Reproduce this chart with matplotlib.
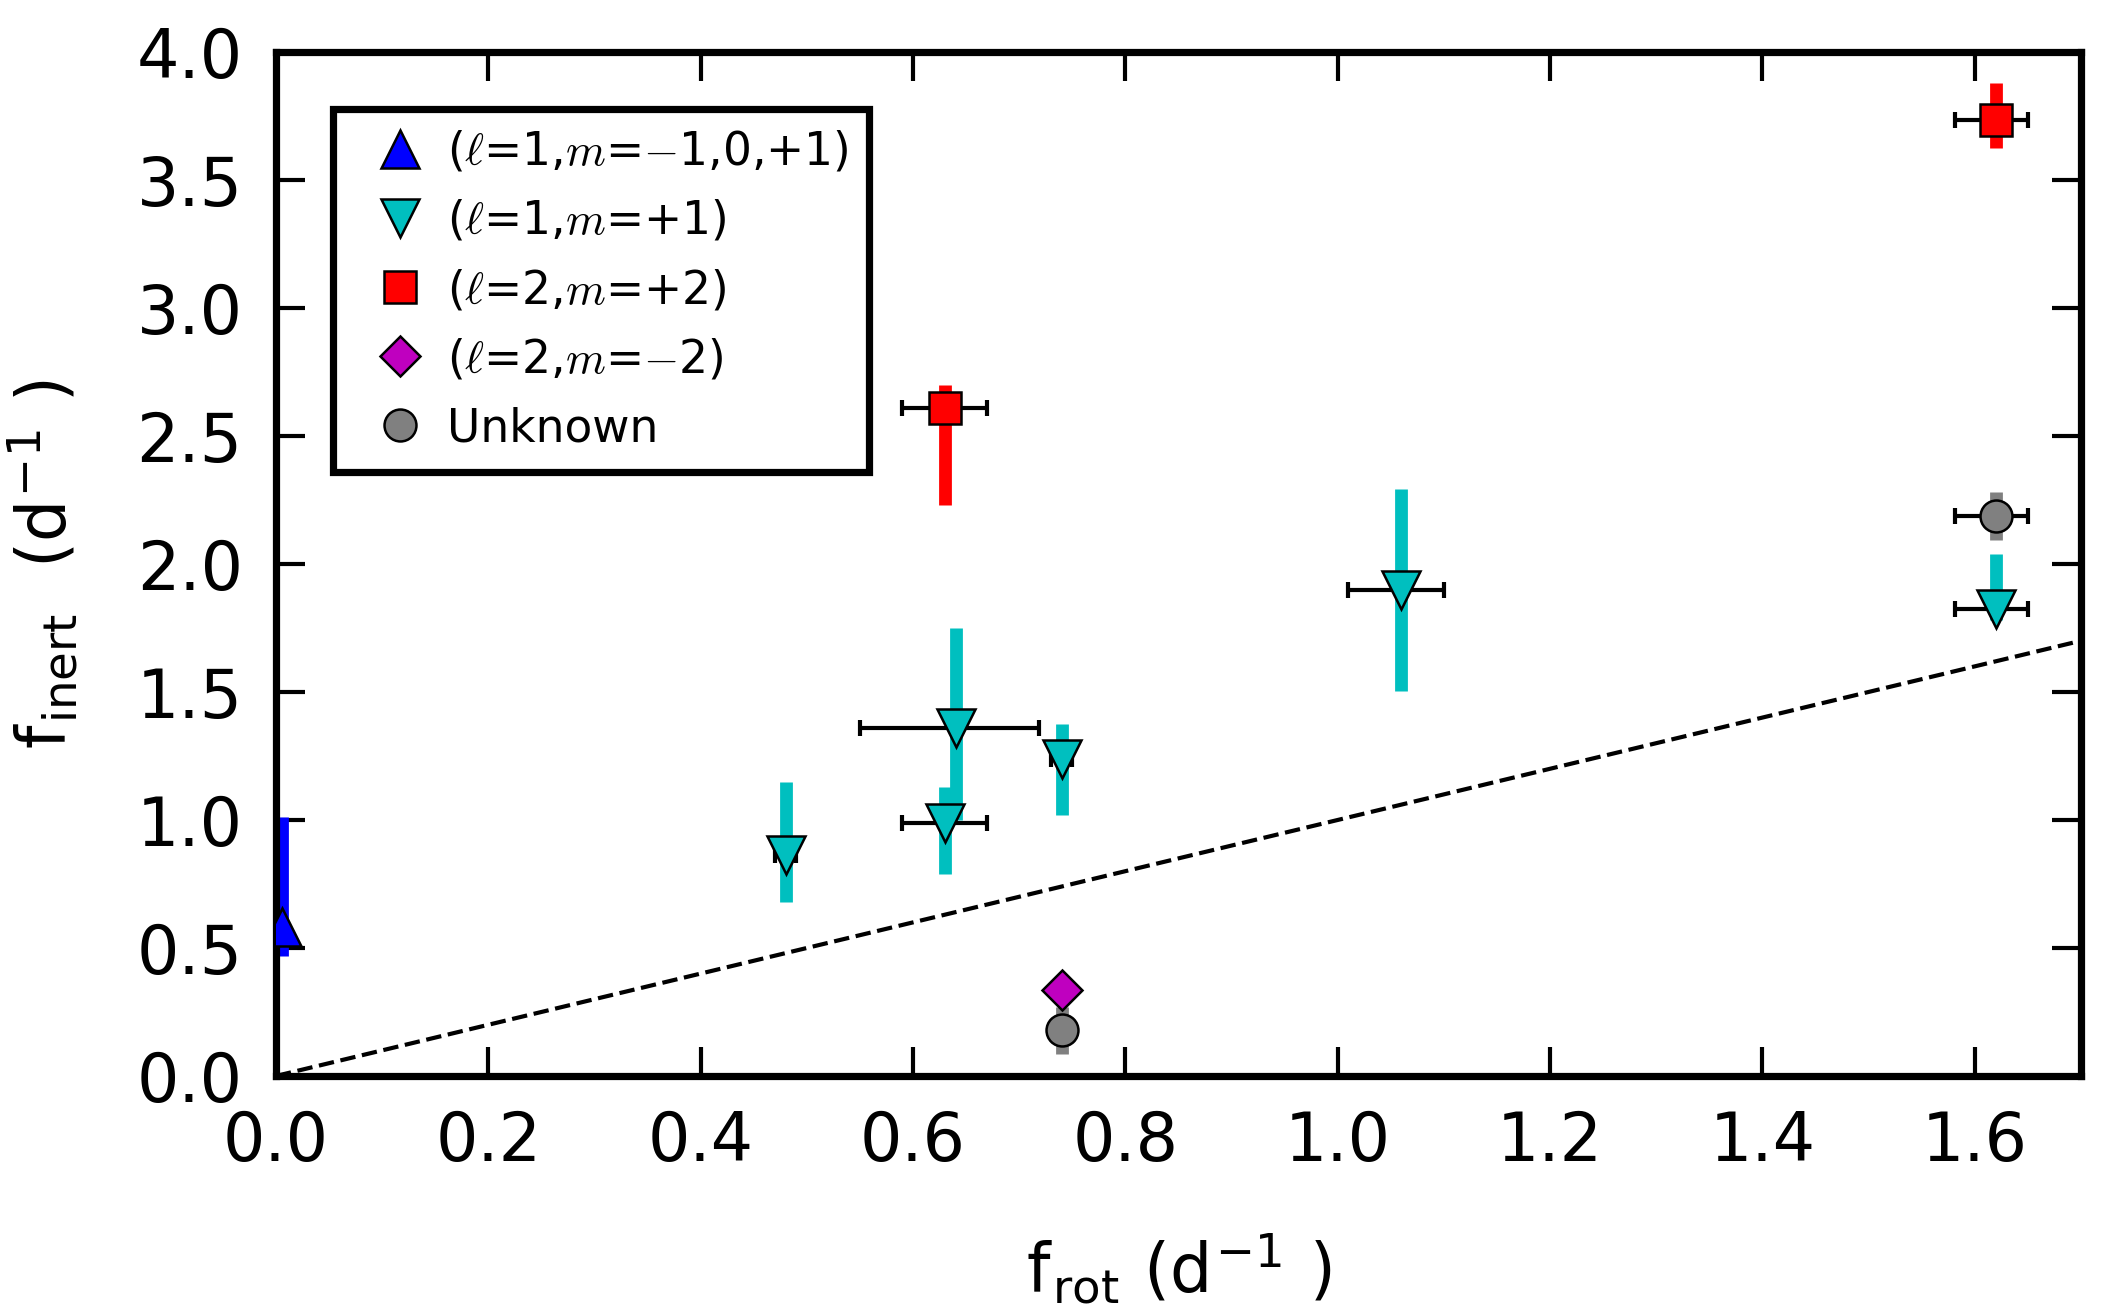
import numpy as np
import matplotlib
matplotlib.use("Agg")
import matplotlib.pyplot as plt

# --- data ---
# (l=1, m=-1,0,+1)
blue_x = [0.0055]
blue_y = [0.58]
blue_ylo = [0.47]
blue_yhi = [1.01]

# (l=1, m=+1)
cyan_x = [0.48, 0.63, 0.64, 0.74, 1.06, 1.62]
cyan_y = [0.865, 0.99, 1.36, 1.24, 1.90, 1.824]
cyan_ylo = [0.68, 0.79, 1.00, 1.02, 1.505, 1.78]
cyan_yhi = [1.147, 1.127, 1.75, 1.373, 2.293, 2.037]
cyan_xlo = [0.01, 0.04, 0.090, 0.01, 0.05, 0.039]
cyan_xhi = [0.01, 0.04, 0.079, 0.01, 0.04, 0.030]

# (l=2, m=+2)
red_x = [0.63, 1.62]
red_y = [2.608, 3.734]
red_ylo = [2.229, 3.623]
red_yhi = [2.698, 3.877]
red_xlo = [0.04, 0.039]
red_xhi = [0.04, 0.030]

# (l=2, m=-2)
mag_x = [0.74]
mag_y = [0.336]

# unknown
grey_x = [0.74, 1.62]
grey_y = [0.179, 2.187]
grey_ylo = [0.086, 2.093]
grey_yhi = [0.27, 2.281]
grey_xlo = [0.0, 0.039]
grey_xhi = [0.0, 0.030]

plt.rcParams['font.size'] = 24
plt.rcParams['mathtext.fontset'] = 'cm'
plt.rcParams['axes.linewidth'] = 2.6
for a in ['xtick', 'ytick']:
    plt.rcParams[a + '.direction'] = 'in'
    plt.rcParams[a + '.major.size'] = 10.4
    plt.rcParams[a + '.major.width'] = 1.5
    plt.rcParams[a + '.major.pad'] = 12
plt.rcParams['xtick.top'] = True
plt.rcParams['ytick.right'] = True

fig = plt.figure(figsize=(10.615, 6.56), dpi=200)
ax = fig.add_axes([0.1300, 0.1799, 0.8502, 0.7805])


def yerr(y, lo, hi):
    y = np.array(y)
    return [y - np.array(lo), np.array(hi) - y]


bar_lw = 4.6
# coloured vertical error bars
ax.errorbar(blue_x, blue_y, yerr=yerr(blue_y, blue_ylo, blue_yhi), fmt='none',
            ecolor='b', elinewidth=bar_lw, capsize=0, zorder=2)
ax.errorbar(cyan_x, cyan_y, yerr=yerr(cyan_y, cyan_ylo, cyan_yhi), fmt='none',
            ecolor='c', elinewidth=bar_lw, capsize=0, zorder=2)
ax.errorbar(red_x, red_y, yerr=yerr(red_y, red_ylo, red_yhi), fmt='none',
            ecolor='r', elinewidth=bar_lw, capsize=0, zorder=2)
ax.errorbar(grey_x, grey_y, yerr=yerr(grey_y, grey_ylo, grey_yhi), fmt='none',
            ecolor='gray', elinewidth=bar_lw, capsize=0, zorder=2)

# black horizontal error bars
ax.errorbar(cyan_x, cyan_y, xerr=[cyan_xlo, cyan_xhi], fmt='none', ecolor='k',
            elinewidth=1.5, capsize=3, capthick=1.5, zorder=3)
ax.errorbar(red_x, red_y, xerr=[red_xlo, red_xhi], fmt='none', ecolor='k',
            elinewidth=1.5, capsize=3, capthick=1.5, zorder=3)
ax.errorbar(grey_x[1:], grey_y[1:], xerr=[grey_xlo[1:], grey_xhi[1:]], fmt='none',
            ecolor='k', elinewidth=1.5, capsize=3, capthick=1.5, zorder=3)

# markers
mew = 0.9
ax.plot(blue_x, blue_y, '^', color='b', ms=14, mec='k', mew=mew, zorder=4,
        label=r'($\ell$=1,$m$=$-$1,0,+1)')
ax.plot(cyan_x, cyan_y, 'v', color='c', ms=14, mec='k', mew=mew, zorder=4,
        label=r'($\ell$=1,$m$=+1)')
ax.plot(red_x, red_y, 's', color='r', ms=11.8, mec='k', mew=mew, zorder=4,
        label=r'($\ell$=2,$m$=+2)')
ax.plot(mag_x, mag_y, 'D', color='m', ms=10.3, mec='k', mew=mew, zorder=4,
        label=r'($\ell$=2,$m$=$-$2)')
ax.plot(grey_x, grey_y, 'o', color='gray', ms=11.5, mec='k', mew=mew, zorder=4,
        label='Unknown')

# f_inert = f_rot line
line_x = np.array([0.0, 1.7])
ax.plot(line_x, line_x, 'k--', lw=1.5, zorder=1)

ax.set_xlim(0, 1.7)
ax.set_ylim(0, 4.0)
ax.set_xticks(np.arange(0, 1.61, 0.2))
ax.set_yticks(np.arange(0, 4.01, 0.5))
ax.xaxis.set_major_formatter(matplotlib.ticker.FormatStrFormatter('%.1f'))
ax.yaxis.set_major_formatter(matplotlib.ticker.FormatStrFormatter('%.1f'))

ax.set_xlabel(r'f$_{\mathregular{rot}}$ (d$^{\mathregular{-1}}$ )', labelpad=20)
ax.set_ylabel(r'f$_{\mathregular{inert}}$  (d$^{\mathregular{-1}}$ )', labelpad=20)

leg = ax.legend(loc='upper left', bbox_to_anchor=(0.0316, 0.944), borderaxespad=0,
                fontsize=16.4, numpoints=1, handlelength=2.05, handletextpad=0.0,
                borderpad=0.45, labelspacing=0.53, fancybox=False, framealpha=1)
leg.get_frame().set_edgecolor('k')
leg.get_frame().set_linewidth(2.6)

fig.savefig('out.png', dpi=200)
